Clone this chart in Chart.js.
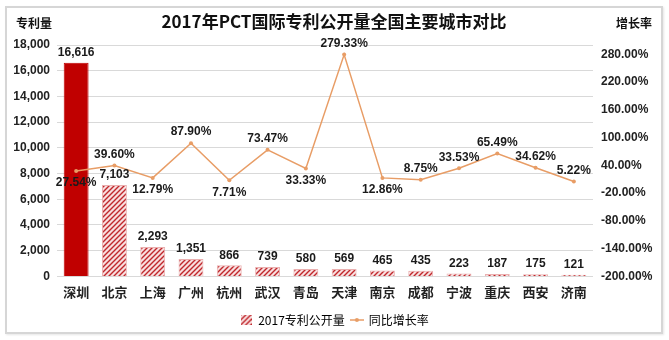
<!DOCTYPE html>
<html>
<head>
<meta charset="utf-8">
<script src="https://cdn.jsdelivr.net/npm/chart.js@4.4.0/dist/chart.umd.min.js"></script>
<style>
  html, body { margin: 0; padding: 0; background: #fff; }
  #wrap { position: relative; width: 669px; height: 340px; }
  #frame { position: absolute; left: 5px; top: 6px; width: 654px; height: 324px; border: 2px solid #d6d6d6; box-shadow: 1px 1px 2px #e6e6e6; pointer-events: none; }
  canvas { position: absolute; left: 0; top: 0; }
</style>
</head>
<body>
<div id="wrap">
  <canvas id="chart" width="669" height="340"></canvas>
  <div id="frame"></div>
</div>
<script>
'use strict';

// 2017年PCT国际专利公开量 城市对比

const cities = ['深圳', '北京', '上海', '广州', '杭州', '武汉', '青岛', '天津', '南京', '成都', '宁波', '重庆', '西安', '济南'];
const patents = [16616, 7103, 2293, 1351, 866, 739, 580, 569, 465, 435, 223, 187, 175, 121];
const growth = [27.54, 39.60, 12.79, 87.90, 7.71, 73.47, 33.33, 279.33, 12.86, 8.75, 33.53, 65.49, 34.62, 5.22];

const patentAxis = { min: 0, max: 18000, step: 2000 };
const growthAxis = { min: -200, max: 300, step: 60 };

// labels that sit under their point
const growthBelow = [0, 2, 4, 6, 8];

const title = '2017年PCT国际专利公开量全国主要城市对比';
const barName = '2017专利公开量';
const lineName = '同比增长率';

const numFont = '"Liberation Sans", Arial, sans-serif';
const cjkFont = '"Noto Sans CJK SC", "Liberation Sans", sans-serif';
const lineColor = '#E89D66';

let canvas = document.getElementById('chart');
let ctx = canvas.getContext('2d');

// 斜线填充
function makeHatch(w, h) {
  let c = document.createElement('canvas');
  c.width = w; c.height = h;
  let g = c.getContext('2d');
  g.fillStyle = '#f8dede';
  g.fillRect(0, 0, w, h);
  g.strokeStyle = '#c0282d';
  g.lineWidth = 1.4;
  g.beginPath();
  g.moveTo(-1, h + 1); g.lineTo(w + 1, -1);
  g.moveTo(-1, 1); g.lineTo(1, -1);
  g.moveTo(w - 1, h + 1); g.lineTo(w + 1, h - 1);
  g.stroke();
  return c;
}
const hatchTile = makeHatch(5, 5);
const hatch = ctx.createPattern(hatchTile, 'repeat');

function legendBox() {
  let c = document.createElement('canvas');
  c.width = 11; c.height = 10;
  let g = c.getContext('2d');
  g.fillStyle = g.createPattern(hatchTile, 'repeat');
  g.fillRect(0, 0, 11, 10);
  return c;
}

function legendLine() {
  let c = document.createElement('canvas');
  c.width = 14; c.height = 6;
  let g = c.getContext('2d');
  g.strokeStyle = lineColor;
  g.lineWidth = 1.5;
  g.beginPath(); g.moveTo(0, 3); g.lineTo(14, 3); g.stroke();
  g.fillStyle = lineColor;
  g.beginPath(); g.arc(7, 3, 2, 0, Math.PI * 2); g.fill();
  return c;
}

const textPlugin = {
  id: 'textPlugin',
  afterDatasetsDraw(chart) {
    let c = chart.ctx;
    c.save();
    c.fillStyle = '#1a1a1a';
    c.textAlign = 'center';
    c.textBaseline = 'middle';
    c.font = 'bold 12px ' + numFont;
    chart.getDatasetMeta(0).data.forEach((bar, i) => {
      c.fillText(patents[i].toLocaleString('en-US'), bar.x, bar.y - 10);
    });
    chart.getDatasetMeta(1).data.forEach((pt, i) => {
      let dy = growthBelow.includes(i) ? 12 : -11;
      c.fillText(growth[i].toFixed(2) + '%', pt.x, pt.y + dy);
    });

    c.font = 'bold 17px ' + cjkFont;
    c.fillStyle = '#111';
    c.fillText(title, 334, 22);
    c.font = 'bold 12px ' + cjkFont;
    c.fillText('专利量', 34, 23);
    c.fillText('增长率', 634, 23);
    c.restore();
  }
};

new Chart(ctx, {
  type: 'bar',
  data: {
    labels: cities,
    datasets: [{
      type: 'bar',
      label: barName,
      data: patents,
      yAxisID: 'y',
      order: 2,
      backgroundColor: patents.map((v, i) => i === 0 ? '#C00000' : hatch),
      borderColor: patents.map((v, i) => i === 0 ? '#C00000' : '#eab0b0'),
      borderWidth: 1,
      categoryPercentage: 1,
      barPercentage: 0.65
    }, {
      type: 'line',
      label: lineName,
      data: growth,
      yAxisID: 'y1',
      order: 1,
      borderColor: lineColor,
      backgroundColor: lineColor,
      borderWidth: 1.5,
      pointRadius: 2,
      pointBorderWidth: 0,
      tension: 0
    }]
  },
  options: {
    responsive: false,
    animation: false,
    layout: { padding: { top: 45, left: 0, right: 0, bottom: 4 } },
    plugins: {
      title: { display: false },
      tooltip: { enabled: false },
      legend: {
        position: 'bottom',
        labels: {
          usePointStyle: true,
          pointStyleWidth: 12,
          boxHeight: 10,
          padding: 6,
          color: '#222',
          font: { family: cjkFont, size: 12 },
          generateLabels: () => [
            { text: barName, pointStyle: legendBox(), datasetIndex: 0, hidden: false, lineWidth: 0 },
            { text: lineName, pointStyle: legendLine(), datasetIndex: 1, hidden: false, lineWidth: 0 }
          ]
        }
      }
    },
    scales: {
      x: {
        grid: { display: false, drawTicks: false },
        border: { display: false },
        ticks: { color: '#222', padding: 8, font: { family: cjkFont, size: 13, weight: 'bold' } }
      },
      y: {
        position: 'left',
        min: patentAxis.min,
        max: patentAxis.max,
        border: { display: false },
        grid: { color: '#d9d9d9', drawTicks: false },
        afterFit: (s) => { s.width = 57; },
        ticks: {
          stepSize: patentAxis.step,
          padding: 7,
          color: '#222',
          font: { family: numFont, size: 12, weight: 'bold' },
          callback: (v) => v.toLocaleString('en-US')
        }
      },
      y1: {
        position: 'right',
        min: growthAxis.min,
        max: growthAxis.max,
        border: { display: false },
        grid: { display: false, drawTicks: false },
        afterFit: (s) => { s.width = 76; },
        afterBuildTicks: (s) => {
          let t = [];
          for (let v = growthAxis.min; v < growthAxis.max; v += growthAxis.step) t.push({ value: v });
          s.ticks = t;
        },
        ticks: {
          padding: 8,
          color: '#222',
          font: { family: numFont, size: 12, weight: 'bold' },
          callback: (v) => v.toFixed(2) + '%'
        }
      }
    }
  },
  plugins: [textPlugin]
});
</script>
</body>
</html>
